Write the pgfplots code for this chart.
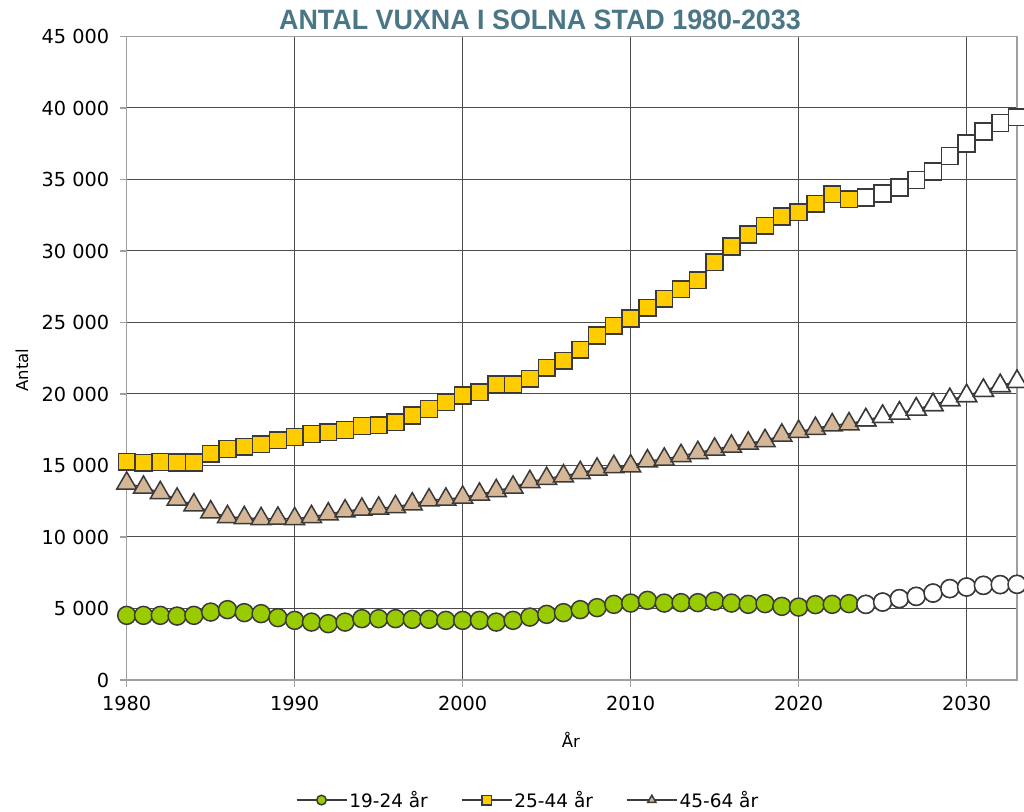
\documentclass[border=0pt]{standalone}
\usepackage{fontspec}
\setmainfont{DejaVu Sans}
\newfontfamily\titlefont[FakeStretch=0.96]{Liberation Sans Bold}
\usepackage{pgfplots}
\usepackage{pgfplotstable}
\pgfplotsset{compat=1.18}
\definecolor{titlecol}{HTML}{4B7686}
\definecolor{cgreen}{HTML}{99CC00}
\definecolor{cyellow}{HTML}{FFCC00}
\definecolor{ctan}{HTML}{D5B696}
\definecolor{cline}{HTML}{3A3A3A}
\definecolor{caxis}{HTML}{A0A0A0}

\pgfplotstableread{
year a b c
1980 4520 15260 13750
1981 4520 15190 13470
1982 4520 15240 13090
1983 4470 15200 12630
1984 4520 15220 12230
1985 4750 15820 11740
1986 4920 16150 11410
1987 4710 16310 11340
1988 4640 16480 11270
1989 4360 16760 11300
1990 4170 16990 11270
1991 4050 17200 11410
1992 3940 17320 11600
1993 4050 17480 11810
1994 4290 17770 11930
1995 4290 17810 12000
1996 4290 18020 12110
1997 4240 18490 12300
1998 4240 18960 12580
1999 4170 19420 12630
2000 4170 19890 12770
2001 4170 20120 12980
2002 4050 20660 13230
2003 4170 20660 13470
2004 4400 21060 13860
2005 4590 21840 14080
2006 4710 22320 14260
2007 4920 23090 14490
2008 5060 24090 14730
2009 5290 24770 14910
2010 5380 25280 14960
2011 5570 26030 15310
2012 5380 26660 15430
2013 5410 27320 15680
2014 5410 27950 15890
2015 5520 29210 16130
2016 5380 30310 16340
2017 5290 31150 16550
2018 5340 31760 16730
2019 5150 32410 17110
2020 5100 32710 17370
2021 5270 33300 17580
2022 5290 33970 17830
2023 5340 33620 17900
2024 5290 33740 18180
2025 5450 34020 18420
2026 5690 34440 18650
2027 5850 34960 18930
2028 6080 35560 19240
2029 6390 36640 19590
2030 6500 37510 19870
2031 6620 38350 20240
2032 6670 38950 20570
2033 6690 39350 20870
}\data

\begin{document}
\begin{tikzpicture}
\useasboundingbox (0,0) rectangle (1024bp,812bp);
\node[text=titlecol, font=\titlefont\fontsize{28bp}{32bp}\selectfont] at (540bp,792bp) {ANTAL VUXNA I SOLNA STAD 1980-2033};
\begin{axis}[
  at={(126.7bp,132bp)}, anchor=south west,
  scale only axis, width=890.3bp, height=643.5bp,
  xmin=1980, xmax=2033, ymin=0, ymax=45000,
  xtick={1980,1990,...,2030}, ytick={0,5000,...,45000},
  grid=major, major grid style={black!70, line width=1bp},
  axis line style={caxis, line width=1.5bp},
  tick style={caxis, line width=1.3bp}, tick align=outside, major tick length=7bp,
  xtick pos=bottom, ytick pos=left,
  scaled y ticks=false,
  tick label style={font=\fontsize{19.3bp}{23bp}\selectfont, text=black},
  x tick label style={/pgf/number format/1000 sep={}, /pgf/number format/assume math mode=true, yshift=-6bp},
  y tick label style={/pgf/number format/1000 sep={\ }, /pgf/number format/assume math mode=true, xshift=-7bp},
  xlabel={År}, ylabel={Antal},
  label style={font=\fontsize{16.5bp}{20bp}\selectfont},
  xlabel style={at={(axis description cs:0.499,-0.0932)}, anchor=center},
  ylabel style={at={(axis description cs:-0.1176,0.4817)}, anchor=center, rotate=0},
  legend columns=3,
  legend style={draw=none, fill=none, at={(axis description cs:0.4507,-0.1866)}, anchor=center,
    font=\fontsize{18.5bp}{22bp}\selectfont,
    /tikz/every even column/.append style={column sep=31bp}},
  legend image code/.code={
    \draw[#1, mark=none] (0bp,0bp) -- (50bp,0bp);
    \draw[#1, mark size=4.8bp] plot coordinates {(25bp,0bp)};
  },
]
\addplot[cline, line width=1.6bp, mark=*, mark size=9bp, mark options={fill=cgreen, draw=cline, line width=1.5bp}] table[x=year,y=a] {\data};
\addlegendentry{19-24 år}
\addplot[cline, line width=1.6bp, mark=square*, mark size=8.4bp, mark options={fill=cyellow, draw=cline, line width=1.5bp}] table[x=year,y=b] {\data};
\addlegendentry{25-44 år}
\addplot[cline, line width=1.6bp, mark=triangle*, mark size=11.5bp, mark options={fill=ctan, draw=cline, line width=1.5bp}] table[x=year,y=c] {\data};
\addlegendentry{45-64 år}
\addplot[forget plot, only marks, restrict x to domain=2024:2033, mark=*, mark size=9bp, mark options={fill=white, draw=cline, line width=1.5bp}] table[x=year,y=a] {\data};
\addplot[forget plot, only marks, restrict x to domain=2024:2033, mark=square*, mark size=8.4bp, mark options={fill=white, draw=cline, line width=1.5bp}] table[x=year,y=b] {\data};
\addplot[forget plot, only marks, restrict x to domain=2024:2033, mark=triangle*, mark size=11.5bp, mark options={fill=white, draw=cline, line width=1.5bp}] table[x=year,y=c] {\data};
\end{axis}
\end{tikzpicture}
\end{document}
